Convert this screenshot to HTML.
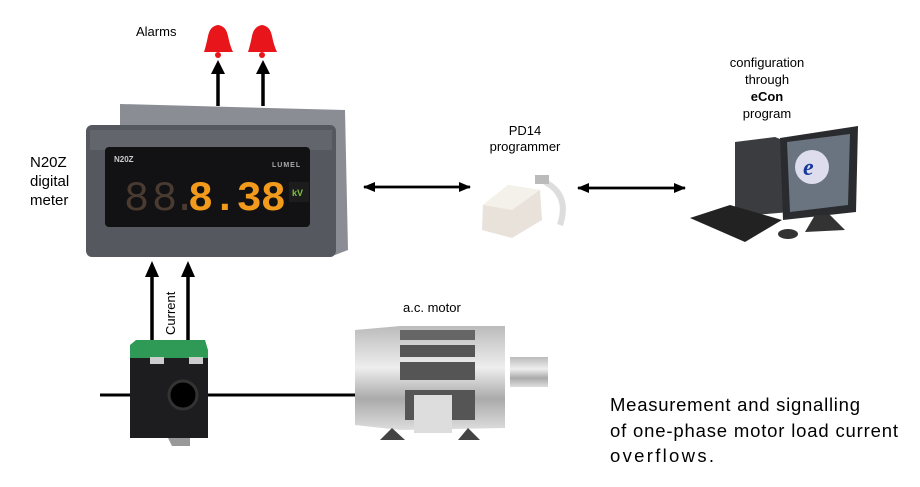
<!DOCTYPE html>
<html><head><style>
body{margin:0;background:#fff;width:920px;height:482px;overflow:hidden;font-family:"Liberation Sans",sans-serif}
</style></head><body>
<svg width="920" height="482" viewBox="0 0 920 482" xmlns="http://www.w3.org/2000/svg" font-family="Liberation Sans, sans-serif">
<defs>
<marker id="ah" markerWidth="12" markerHeight="10" refX="11" refY="5" orient="auto" markerUnits="userSpaceOnUse"><path d="M0,0 L12,5 L0,10 z" fill="#000"/></marker>
<linearGradient id="mg" x1="0" y1="0" x2="0" y2="1"><stop offset="0" stop-color="#bbb"/><stop offset="0.4" stop-color="#eee"/><stop offset="0.7" stop-color="#aaa"/><stop offset="1" stop-color="#ddd"/></linearGradient>
</defs>
<text x="136" y="36" font-size="13">Alarms</text>
<g fill="#e8161b">
<path d="M204,52 Q206,46 208,36 Q210,26 218,25 Q226,26 228,36 Q230,46 233,52 Z"/><circle cx="218" cy="55" r="3"/>
<path d="M248,52 Q250,46 252,36 Q254,26 262,25 Q270,26 272,36 Q274,46 277,52 Z"/><circle cx="262" cy="55" r="3"/>
</g>
<g stroke="#000" stroke-width="3.5">
<line x1="218" y1="106" x2="218" y2="72"/><line x1="263" y1="106" x2="263" y2="72"/>
<line x1="152" y1="340" x2="152" y2="275"/><line x1="188" y1="340" x2="188" y2="275"/>
</g>
<g fill="#000">
<path d="M211,74 L218,60 L225,74Z"/><path d="M256,74 L263,60 L270,74Z"/>
<path d="M145,277 L152,261 L159,277Z"/><path d="M181,277 L188,261 L195,277Z"/>
</g>
<path d="M120,104 L345,110 L348,250 L335,255 L120,130Z" fill="#8a8d93"/>
<rect x="86" y="125" width="250" height="132" rx="6" fill="#55595f"/>
<rect x="90" y="130" width="242" height="20" fill="#62666c"/>
<rect x="105" y="147" width="205" height="80" rx="4" fill="#121214"/>
<text x="114" y="162" font-size="8" fill="#ccc" font-weight="bold">N20Z</text>
<text x="272" y="167" font-size="7" fill="#aaa" font-weight="bold" letter-spacing="1">LUMEL</text>
<g font-size="42" fill="#4a3b30" font-family="Liberation Mono, monospace">
<text x="124" y="210">8</text><text x="152" y="210">8</text><text x="172" y="210">.</text>
</g>
<text x="188" y="210" font-size="42" fill="#f29a1c" font-family="Liberation Mono, monospace" font-weight="bold" textLength="98">8.38</text>
<rect x="289" y="182" width="20" height="20" fill="#1c1c1c"/>
<text x="292" y="196" font-size="9" fill="#7cc242" font-weight="bold">kV</text>
<text x="30" y="167" font-size="15">N20Z</text>
<text x="30" y="186" font-size="15">digital</text>
<text x="30" y="205" font-size="15">meter</text>
<text font-size="13" transform="translate(175,335) rotate(-90)">Current</text>
<line x1="100" y1="395" x2="356" y2="395" stroke="#000" stroke-width="3"/>
<rect x="130" y="358" width="78" height="80" fill="#1d1d1f"/>
<path d="M130,345 L136,340 L205,340 L208,350 L208,358 L130,358Z" fill="#2e9a55"/>
<rect x="150" y="357" width="14" height="7" fill="#ccc"/><rect x="189" y="357" width="14" height="7" fill="#ccc"/>
<circle cx="183" cy="395" r="14" fill="#000" stroke="#333" stroke-width="3"/>
<path d="M168,438 L190,438 L190,446 L172,446Z" fill="#999"/>
<text x="403" y="312" font-size="13">a.c. motor</text>
<rect x="510" y="357" width="38" height="30" fill="url(#mg)"/>
<path d="M355,330 L400,326 L505,326 L505,428 L400,430 L355,425Z" fill="url(#mg)"/>
<rect x="400" y="330" width="75" height="10" fill="#666"/>
<rect x="400" y="345" width="75" height="12" fill="#555"/>
<rect x="400" y="362" width="75" height="18" fill="#555"/>
<rect x="405" y="390" width="70" height="30" fill="#555"/>
<rect x="414" y="395" width="38" height="38" fill="#ddd"/>
<path d="M380,440 L392,428 L405,440Z" fill="#444"/><path d="M458,440 L468,428 L480,440Z" fill="#444"/>
<line x1="364" y1="187" x2="470" y2="187" stroke="#000" stroke-width="2.5" marker-end="url(#ah)"/>
<line x1="470" y1="187" x2="364" y2="187" stroke="#000" stroke-width="2.5" marker-end="url(#ah)"/>
<line x1="578" y1="188" x2="685" y2="188" stroke="#000" stroke-width="2.5" marker-end="url(#ah)"/>
<line x1="685" y1="188" x2="578" y2="188" stroke="#000" stroke-width="2.5" marker-end="url(#ah)"/>
<text x="525" y="135" font-size="13" text-anchor="middle">PD14</text>
<text x="525" y="151" font-size="13" text-anchor="middle">programmer</text>
<path d="M483,205 L508,185 L540,190 L542,220 L512,238 L482,230Z" fill="#e8e2da"/>
<path d="M483,205 L508,185 L540,190 L512,210Z" fill="#f4f0ea"/>
<path d="M545,182 Q570,195 560,225" stroke="#ddd" stroke-width="6" fill="none"/>
<rect x="535" y="175" width="14" height="9" fill="#bbb"/>
<text x="767" y="67" font-size="13" text-anchor="middle">configuration</text>
<text x="767" y="84" font-size="13" text-anchor="middle">through</text>
<text x="767" y="101" font-size="13" text-anchor="middle" font-weight="bold">eCon</text>
<text x="767" y="118" font-size="13" text-anchor="middle">program</text>
<path d="M735,142 L775,137 L790,143 L790,212 L742,216 L735,210Z" fill="#3a3c40"/>
<path d="M780,138 L858,126 L856,212 L783,220Z" fill="#2a2b2e"/>
<path d="M787,142 L850,134 L848,205 L790,212Z" fill="#6a7380"/>
<circle cx="812" cy="167" r="17" fill="#dde"/>
<text x="803" y="175" font-size="24" fill="#1a3a9a" font-style="italic" font-weight="bold" font-family="Liberation Serif, serif">e</text>
<path d="M815,215 L830,215 L845,230 L805,232Z" fill="#333"/>
<path d="M690,218 L730,205 L782,220 L745,242Z" fill="#222"/>
<ellipse cx="788" cy="234" rx="10" ry="5" fill="#333"/>
<text x="610" y="411" font-size="18.5" textLength="250">Measurement and signalling</text>
<text x="610" y="437" font-size="18.5" textLength="288">of one-phase motor load current</text>
<text x="610" y="462" font-size="18.5" textLength="104">overflows.</text>
</svg>
</body></html>
